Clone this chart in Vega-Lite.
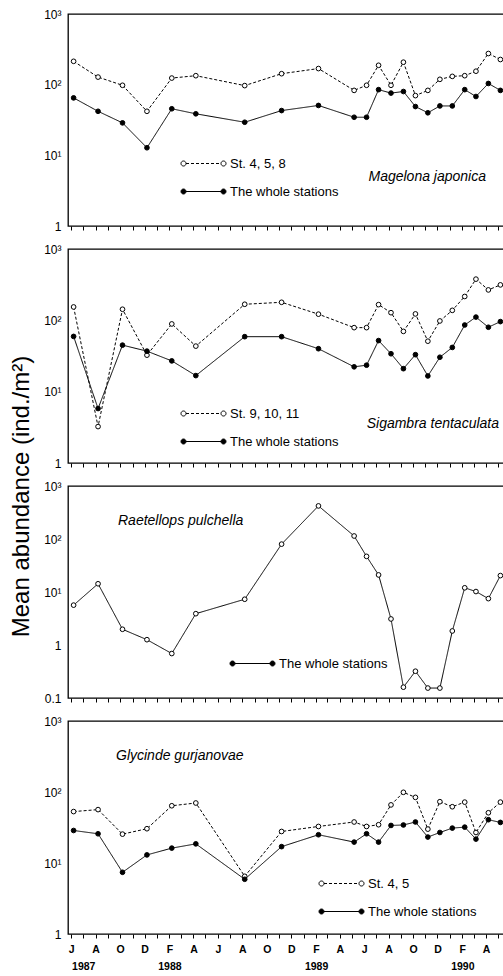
{
  "$schema": "https://vega.github.io/schema/vega-lite/v6.json",
  "padding": {"left": 8, "top": 7, "right": 0, "bottom": 0},
  "autosize": {"type": "pad"},
  "bounds": "flush",
  "spacing": 23,
  "resolve": {"scale": {"strokeDash": "independent", "fill": "independent"}, "legend": {"strokeDash": "independent", "fill": "independent"}},
  "config": {
    "font": "Liberation Sans",
    "view": {"stroke": "black", "strokeWidth": 1.3},
    "axis": {"grid": false, "domain": false, "labelFont": "Liberation Sans", "labelColor": "black", "tickColor": "black", "titleColor": "black", "titleFont": "Liberation Sans"},
    "legend": {"labelFont": "Liberation Sans", "labelColor": "black", "labelFontWeight": "normal", "labelFontSize": 13, "labelOffset": 6, "rowPadding": -3, "padding": 0, "direction": "vertical", "symbolSize": 1600, "symbolStrokeWidth": 1}
  },
  "datasets": {
    "p1": [
      {"date": "1987-06-07", "series": "St. 4, 5, 8", "value": 214},
      {"date": "1987-08-07", "series": "St. 4, 5, 8", "value": 128},
      {"date": "1987-10-07", "series": "St. 4, 5, 8", "value": 98},
      {"date": "1987-12-07", "series": "St. 4, 5, 8", "value": 42},
      {"date": "1988-02-07", "series": "St. 4, 5, 8", "value": 124},
      {"date": "1988-04-07", "series": "St. 4, 5, 8", "value": 134},
      {"date": "1988-08-07", "series": "St. 4, 5, 8", "value": 97},
      {"date": "1988-11-07", "series": "St. 4, 5, 8", "value": 143},
      {"date": "1989-02-07", "series": "St. 4, 5, 8", "value": 169},
      {"date": "1989-05-07", "series": "St. 4, 5, 8", "value": 83},
      {"date": "1989-06-07", "series": "St. 4, 5, 8", "value": 98},
      {"date": "1989-07-07", "series": "St. 4, 5, 8", "value": 188},
      {"date": "1989-08-07", "series": "St. 4, 5, 8", "value": 98},
      {"date": "1989-09-07", "series": "St. 4, 5, 8", "value": 208},
      {"date": "1989-10-07", "series": "St. 4, 5, 8", "value": 70},
      {"date": "1989-11-07", "series": "St. 4, 5, 8", "value": 83},
      {"date": "1989-12-07", "series": "St. 4, 5, 8", "value": 119},
      {"date": "1990-01-07", "series": "St. 4, 5, 8", "value": 131},
      {"date": "1990-02-07", "series": "St. 4, 5, 8", "value": 134},
      {"date": "1990-03-07", "series": "St. 4, 5, 8", "value": 155},
      {"date": "1990-04-07", "series": "St. 4, 5, 8", "value": 276},
      {"date": "1990-05-07", "series": "St. 4, 5, 8", "value": 227},
      {"date": "1987-06-07", "series": "The whole stations", "value": 65},
      {"date": "1987-08-07", "series": "The whole stations", "value": 42},
      {"date": "1987-10-07", "series": "The whole stations", "value": 28.8},
      {"date": "1987-12-07", "series": "The whole stations", "value": 12.8},
      {"date": "1988-02-07", "series": "The whole stations", "value": 45.6},
      {"date": "1988-04-07", "series": "The whole stations", "value": 38.7},
      {"date": "1988-08-07", "series": "The whole stations", "value": 29.4},
      {"date": "1988-11-07", "series": "The whole stations", "value": 43},
      {"date": "1989-02-07", "series": "The whole stations", "value": 50.8},
      {"date": "1989-05-07", "series": "The whole stations", "value": 34.6},
      {"date": "1989-06-07", "series": "The whole stations", "value": 34.6},
      {"date": "1989-07-07", "series": "The whole stations", "value": 85},
      {"date": "1989-08-07", "series": "The whole stations", "value": 76},
      {"date": "1989-09-07", "series": "The whole stations", "value": 80},
      {"date": "1989-10-07", "series": "The whole stations", "value": 49},
      {"date": "1989-11-07", "series": "The whole stations", "value": 40},
      {"date": "1989-12-07", "series": "The whole stations", "value": 50},
      {"date": "1990-01-07", "series": "The whole stations", "value": 50},
      {"date": "1990-02-07", "series": "The whole stations", "value": 85},
      {"date": "1990-03-07", "series": "The whole stations", "value": 68},
      {"date": "1990-04-07", "series": "The whole stations", "value": 104},
      {"date": "1990-05-07", "series": "The whole stations", "value": 83}
    ],
    "p2": [
      {"date": "1987-06-07", "series": "St. 9, 10, 11", "value": 154},
      {"date": "1987-08-07", "series": "St. 9, 10, 11", "value": 3.24},
      {"date": "1987-10-07", "series": "St. 9, 10, 11", "value": 143},
      {"date": "1987-12-07", "series": "St. 9, 10, 11", "value": 32.5},
      {"date": "1988-02-07", "series": "St. 9, 10, 11", "value": 89},
      {"date": "1988-04-07", "series": "St. 9, 10, 11", "value": 43.5},
      {"date": "1988-08-07", "series": "St. 9, 10, 11", "value": 168},
      {"date": "1988-11-07", "series": "St. 9, 10, 11", "value": 179},
      {"date": "1989-02-07", "series": "St. 9, 10, 11", "value": 122},
      {"date": "1989-05-07", "series": "St. 9, 10, 11", "value": 79},
      {"date": "1989-06-07", "series": "St. 9, 10, 11", "value": 79},
      {"date": "1989-07-07", "series": "St. 9, 10, 11", "value": 166},
      {"date": "1989-08-07", "series": "St. 9, 10, 11", "value": 128},
      {"date": "1989-09-07", "series": "St. 9, 10, 11", "value": 70},
      {"date": "1989-10-07", "series": "St. 9, 10, 11", "value": 123},
      {"date": "1989-11-07", "series": "St. 9, 10, 11", "value": 51},
      {"date": "1989-12-07", "series": "St. 9, 10, 11", "value": 98},
      {"date": "1990-01-07", "series": "St. 9, 10, 11", "value": 138},
      {"date": "1990-02-07", "series": "St. 9, 10, 11", "value": 216},
      {"date": "1990-03-07", "series": "St. 9, 10, 11", "value": 378},
      {"date": "1990-04-07", "series": "St. 9, 10, 11", "value": 267},
      {"date": "1990-05-07", "series": "St. 9, 10, 11", "value": 314},
      {"date": "1987-06-07", "series": "The whole stations", "value": 59.5},
      {"date": "1987-08-07", "series": "The whole stations", "value": 5.8},
      {"date": "1987-10-07", "series": "The whole stations", "value": 44.9},
      {"date": "1987-12-07", "series": "The whole stations", "value": 37},
      {"date": "1988-02-07", "series": "The whole stations", "value": 27},
      {"date": "1988-04-07", "series": "The whole stations", "value": 16.8},
      {"date": "1988-08-07", "series": "The whole stations", "value": 59},
      {"date": "1988-11-07", "series": "The whole stations", "value": 59},
      {"date": "1989-02-07", "series": "The whole stations", "value": 40},
      {"date": "1989-05-07", "series": "The whole stations", "value": 22.3},
      {"date": "1989-06-07", "series": "The whole stations", "value": 23.5},
      {"date": "1989-07-07", "series": "The whole stations", "value": 52},
      {"date": "1989-08-07", "series": "The whole stations", "value": 34},
      {"date": "1989-09-07", "series": "The whole stations", "value": 21},
      {"date": "1989-10-07", "series": "The whole stations", "value": 33},
      {"date": "1989-11-07", "series": "The whole stations", "value": 16.6},
      {"date": "1989-12-07", "series": "The whole stations", "value": 30.4},
      {"date": "1990-01-07", "series": "The whole stations", "value": 41.7},
      {"date": "1990-02-07", "series": "The whole stations", "value": 86},
      {"date": "1990-03-07", "series": "The whole stations", "value": 111},
      {"date": "1990-04-07", "series": "The whole stations", "value": 80},
      {"date": "1990-05-07", "series": "The whole stations", "value": 96}
    ],
    "p3": [
      {"date": "1987-06-07", "series": "The whole stations", "value": 5.65},
      {"date": "1987-08-07", "series": "The whole stations", "value": 14.3},
      {"date": "1987-10-07", "series": "The whole stations", "value": 1.98},
      {"date": "1987-12-07", "series": "The whole stations", "value": 1.26},
      {"date": "1988-02-07", "series": "The whole stations", "value": 0.69},
      {"date": "1988-04-07", "series": "The whole stations", "value": 3.9},
      {"date": "1988-08-07", "series": "The whole stations", "value": 7.3},
      {"date": "1988-11-07", "series": "The whole stations", "value": 80},
      {"date": "1989-02-07", "series": "The whole stations", "value": 421},
      {"date": "1989-05-07", "series": "The whole stations", "value": 114},
      {"date": "1989-06-07", "series": "The whole stations", "value": 47},
      {"date": "1989-07-07", "series": "The whole stations", "value": 21},
      {"date": "1989-08-07", "series": "The whole stations", "value": 3.1},
      {"date": "1989-09-07", "series": "The whole stations", "value": 0.16},
      {"date": "1989-10-07", "series": "The whole stations", "value": 0.32},
      {"date": "1989-11-07", "series": "The whole stations", "value": 0.154},
      {"date": "1989-12-07", "series": "The whole stations", "value": 0.154},
      {"date": "1990-01-07", "series": "The whole stations", "value": 1.84},
      {"date": "1990-02-07", "series": "The whole stations", "value": 12},
      {"date": "1990-03-07", "series": "The whole stations", "value": 10.2},
      {"date": "1990-04-07", "series": "The whole stations", "value": 7.5},
      {"date": "1990-05-07", "series": "The whole stations", "value": 20.4}
    ],
    "p4": [
      {"date": "1987-06-07", "series": "St. 4, 5", "value": 53},
      {"date": "1987-08-07", "series": "St. 4, 5", "value": 56.5},
      {"date": "1987-10-07", "series": "St. 4, 5", "value": 25.5},
      {"date": "1987-12-07", "series": "St. 4, 5", "value": 30.4},
      {"date": "1988-02-07", "series": "St. 4, 5", "value": 64},
      {"date": "1988-04-07", "series": "St. 4, 5", "value": 70},
      {"date": "1988-08-07", "series": "St. 4, 5", "value": 6.5},
      {"date": "1988-11-07", "series": "St. 4, 5", "value": 27.8},
      {"date": "1989-02-07", "series": "St. 4, 5", "value": 32.7},
      {"date": "1989-05-07", "series": "St. 4, 5", "value": 37.8},
      {"date": "1989-06-07", "series": "St. 4, 5", "value": 32.7},
      {"date": "1989-07-07", "series": "St. 4, 5", "value": 34.6},
      {"date": "1989-08-07", "series": "St. 4, 5", "value": 65.8},
      {"date": "1989-09-07", "series": "St. 4, 5", "value": 99},
      {"date": "1989-10-07", "series": "St. 4, 5", "value": 84},
      {"date": "1989-11-07", "series": "St. 4, 5", "value": 30},
      {"date": "1989-12-07", "series": "St. 4, 5", "value": 73},
      {"date": "1990-01-07", "series": "St. 4, 5", "value": 62},
      {"date": "1990-02-07", "series": "St. 4, 5", "value": 72},
      {"date": "1990-03-07", "series": "St. 4, 5", "value": 26.9},
      {"date": "1990-04-07", "series": "St. 4, 5", "value": 51},
      {"date": "1990-05-07", "series": "St. 4, 5", "value": 72},
      {"date": "1987-06-07", "series": "The whole stations", "value": 28.7},
      {"date": "1987-08-07", "series": "The whole stations", "value": 25.8},
      {"date": "1987-10-07", "series": "The whole stations", "value": 7.4},
      {"date": "1987-12-07", "series": "The whole stations", "value": 13},
      {"date": "1988-02-07", "series": "The whole stations", "value": 16.2},
      {"date": "1988-04-07", "series": "The whole stations", "value": 18.6},
      {"date": "1988-08-07", "series": "The whole stations", "value": 5.9},
      {"date": "1988-11-07", "series": "The whole stations", "value": 17},
      {"date": "1989-02-07", "series": "The whole stations", "value": 25},
      {"date": "1989-05-07", "series": "The whole stations", "value": 19.7},
      {"date": "1989-06-07", "series": "The whole stations", "value": 25.8},
      {"date": "1989-07-07", "series": "The whole stations", "value": 19.7},
      {"date": "1989-08-07", "series": "The whole stations", "value": 33.8},
      {"date": "1989-09-07", "series": "The whole stations", "value": 34.3},
      {"date": "1989-10-07", "series": "The whole stations", "value": 37.8},
      {"date": "1989-11-07", "series": "The whole stations", "value": 23.2},
      {"date": "1989-12-07", "series": "The whole stations", "value": 26.9},
      {"date": "1990-01-07", "series": "The whole stations", "value": 31},
      {"date": "1990-02-07", "series": "The whole stations", "value": 32},
      {"date": "1990-03-07", "series": "The whole stations", "value": 21.7},
      {"date": "1990-04-07", "series": "The whole stations", "value": 40.7},
      {"date": "1990-05-07", "series": "The whole stations", "value": 37.3}
    ]
  },
  "vconcat": [
    {
      "width": 436, "height": 212,
      "data": {"name": "p1"},
      "title": {"text": "Magelona japonica", "orient": "top", "anchor": "end", "frame": "group", "offset": 0, "baseline": "middle", "dx": -18, "dy": 183, "fontStyle": "italic", "fontWeight": "normal", "fontSize": 14, "font": "Liberation Sans", "color": "black"},
      "encoding": {
        "x": {"field": "date", "type": "temporal", "scale": {"type": "utc", "domain": [{"year": 1987, "month": "may", "date": 24, "utc": true}, {"year": 1990, "month": "may", "date": 16, "utc": true}], "nice": false},
          "axis": {"title": null, "labels": false, "ticks": true, "tickSize": 4, "tickCount": {"interval": "month", "step": 1}}},
        "y": {"field": "value", "type": "quantitative", "scale": {"type": "log", "domain": [1, 1000], "nice": false},
          "axis": {"title": null, "values": [1, 10, 100, 1000], "ticks": false, "labelPadding": 7, "labelFontSize": 12, "labelExpr": "datum.value >= 999 ? '10³' : datum.value >= 99 ? '10²' : datum.value >= 9 ? '10¹' : datum.value >= 0.9 ? '1' : '0.1'"}}
      },
      "layer": [
        {"mark": {"type": "line", "color": "black", "strokeWidth": 1},
         "encoding": {"strokeDash": {"field": "series", "type": "nominal", "scale": {"range": [[3, 2], [1, 0]]},
           "legend": {"title": null, "orient": "none", "legendX": 115, "legendY": 129, "symbolType": "M-0.875,0L0.875,0"}}}},
        {"mark": {"type": "point", "shape": "circle", "filled": true, "size": 22, "stroke": "black", "strokeWidth": 1, "opacity": 1},
         "encoding": {"fill": {"field": "series", "type": "nominal", "scale": {"range": ["white", "black"]},
           "legend": {"title": null, "orient": "none", "legendX": 115, "legendY": 129, "labelOpacity": 0, "symbolStrokeColor": "black", "symbolType": "M-0.875,0A0.125,0.125,0,1,1,-1.125,0A0.125,0.125,0,1,1,-0.875,0ZM1.125,0A0.125,0.125,0,1,1,0.875,0A0.125,0.125,0,1,1,1.125,0Z"}}}}
      ]
    },
    {
      "width": 436, "height": 214,
      "data": {"name": "p2"},
      "title": {"text": "Sigambra tentaculata", "orient": "top", "anchor": "end", "frame": "group", "offset": 0, "baseline": "middle", "dx": -5, "dy": 195, "fontStyle": "italic", "fontWeight": "normal", "fontSize": 14, "font": "Liberation Sans", "color": "black"},
      "encoding": {
        "x": {"field": "date", "type": "temporal", "scale": {"type": "utc", "domain": [{"year": 1987, "month": "may", "date": 24, "utc": true}, {"year": 1990, "month": "may", "date": 16, "utc": true}], "nice": false},
          "axis": {"title": null, "labels": false, "ticks": true, "tickSize": 4, "tickCount": {"interval": "month", "step": 1}}},
        "y": {"field": "value", "type": "quantitative", "scale": {"type": "log", "domain": [1, 1000], "nice": false},
          "axis": {"title": "Mean abundance (ind./m²)", "titleFontSize": 24, "titleFontWeight": "normal", "titleX": -35, "titleY": 247, "titleBaseline": "bottom", "titleAlign": "center", "titleAngle": 270,
            "values": [1, 10, 100, 1000], "ticks": false, "labelPadding": 7, "labelFontSize": 12, "labelExpr": "datum.value >= 999 ? '10³' : datum.value >= 99 ? '10²' : datum.value >= 9 ? '10¹' : datum.value >= 0.9 ? '1' : '0.1'"}}
      },
      "layer": [
        {"mark": {"type": "line", "color": "black", "strokeWidth": 1},
         "encoding": {"strokeDash": {"field": "series", "type": "nominal", "scale": {"range": [[3, 2], [1, 0]]},
           "legend": {"title": null, "orient": "none", "legendX": 115, "legendY": 144, "symbolType": "M-0.875,0L0.875,0"}}}},
        {"mark": {"type": "point", "shape": "circle", "filled": true, "size": 22, "stroke": "black", "strokeWidth": 1, "opacity": 1},
         "encoding": {"fill": {"field": "series", "type": "nominal", "scale": {"range": ["white", "black"]},
           "legend": {"title": null, "orient": "none", "legendX": 115, "legendY": 144, "labelOpacity": 0, "symbolStrokeColor": "black", "symbolType": "M-0.875,0A0.125,0.125,0,1,1,-1.125,0A0.125,0.125,0,1,1,-0.875,0ZM1.125,0A0.125,0.125,0,1,1,0.875,0A0.125,0.125,0,1,1,1.125,0Z"}}}}
      ]
    },
    {
      "width": 436, "height": 212,
      "data": {"name": "p3"},
      "title": {"text": "Raetellops pulchella", "orient": "top", "anchor": "start", "frame": "group", "offset": 0, "baseline": "middle", "dx": 50, "dy": 55, "fontStyle": "italic", "fontWeight": "normal", "fontSize": 14, "font": "Liberation Sans", "color": "black"},
      "encoding": {
        "x": {"field": "date", "type": "temporal", "scale": {"type": "utc", "domain": [{"year": 1987, "month": "may", "date": 24, "utc": true}, {"year": 1990, "month": "may", "date": 16, "utc": true}], "nice": false},
          "axis": {"title": null, "labels": false, "ticks": true, "tickSize": 4, "tickCount": {"interval": "month", "step": 1}}},
        "y": {"field": "value", "type": "quantitative", "scale": {"type": "log", "domain": [0.1, 1000], "nice": false},
          "axis": {"title": null, "values": [0.1, 1, 10, 100, 1000], "ticks": false, "labelPadding": 7, "labelFontSize": 12, "labelExpr": "datum.value >= 999 ? '10³' : datum.value >= 99 ? '10²' : datum.value >= 9 ? '10¹' : datum.value >= 0.9 ? '1' : '0.1'"}}
      },
      "layer": [
        {"mark": {"type": "line", "color": "black", "strokeWidth": 1},
         "encoding": {"strokeDash": {"field": "series", "type": "nominal", "scale": {"range": [[1, 0]]},
           "legend": {"title": null, "orient": "none", "legendX": 164, "legendY": 157, "symbolFillColor": "black", "symbolType": "M-0.875,0L0.875,0M-0.875,0A0.125,0.125,0,1,1,-1.125,0A0.125,0.125,0,1,1,-0.875,0M1.125,0A0.125,0.125,0,1,1,0.875,0A0.125,0.125,0,1,1,1.125,0"}}}},
        {"mark": {"type": "point", "shape": "circle", "filled": true, "fill": "white", "size": 22, "stroke": "black", "strokeWidth": 1, "opacity": 1}}
      ]
    },
    {
      "width": 436, "height": 213,
      "data": {"name": "p4"},
      "title": {"text": "Glycinde gurjanovae", "orient": "top", "anchor": "start", "frame": "group", "offset": 0, "baseline": "middle", "dx": 48, "dy": 55, "fontStyle": "italic", "fontWeight": "normal", "fontSize": 14, "font": "Liberation Sans", "color": "black"},
      "encoding": {
        "x": {"field": "date", "type": "temporal", "scale": {"type": "utc", "domain": [{"year": 1987, "month": "may", "date": 24, "utc": true}, {"year": 1990, "month": "may", "date": 16, "utc": true}], "nice": false},
          "axis": {"title": null, "labels": true, "ticks": true, "tickSize": 4, "tickCount": {"interval": "month", "step": 1}, "labelOverlap": false, "labelFlush": false, "labelBound": false, "labelFontSize": 10.5, "labelFontWeight": "bold", "labelPadding": 6, "labelLineHeight": 17, "labelBaseline": "top",
            "labelExpr": "utcmonth(datum.value) == 6 && utcyear(datum.value) == 1987 ? ['', '1987'] : utcmonth(datum.value) == 1 ? ['F', '' + utcyear(datum.value)] : utcmonth(datum.value) % 2 == 1 ? substring(utcFormat(datum.value, '%b'), 0, 1) : ''"}},
        "y": {"field": "value", "type": "quantitative", "scale": {"type": "log", "domain": [1, 1000], "nice": false},
          "axis": {"title": null, "values": [1, 10, 100, 1000], "ticks": false, "labelPadding": 7, "labelFontSize": 12, "labelExpr": "datum.value >= 999 ? '10³' : datum.value >= 99 ? '10²' : datum.value >= 9 ? '10¹' : datum.value >= 0.9 ? '1' : '0.1'"}}
      },
      "layer": [
        {"mark": {"type": "line", "color": "black", "strokeWidth": 1},
         "encoding": {"strokeDash": {"field": "series", "type": "nominal", "scale": {"range": [[3, 2], [1, 0]]},
           "legend": {"title": null, "orient": "none", "legendX": 253, "legendY": 142, "symbolType": "M-0.875,0L0.875,0"}}}},
        {"mark": {"type": "point", "shape": "circle", "filled": true, "size": 22, "stroke": "black", "strokeWidth": 1, "opacity": 1},
         "encoding": {"fill": {"field": "series", "type": "nominal", "scale": {"range": ["white", "black"]},
           "legend": {"title": null, "orient": "none", "legendX": 253, "legendY": 142, "labelOpacity": 0, "symbolStrokeColor": "black", "symbolType": "M-0.875,0A0.125,0.125,0,1,1,-1.125,0A0.125,0.125,0,1,1,-0.875,0ZM1.125,0A0.125,0.125,0,1,1,0.875,0A0.125,0.125,0,1,1,1.125,0Z"}}}}
      ]
    }
  ]
}
